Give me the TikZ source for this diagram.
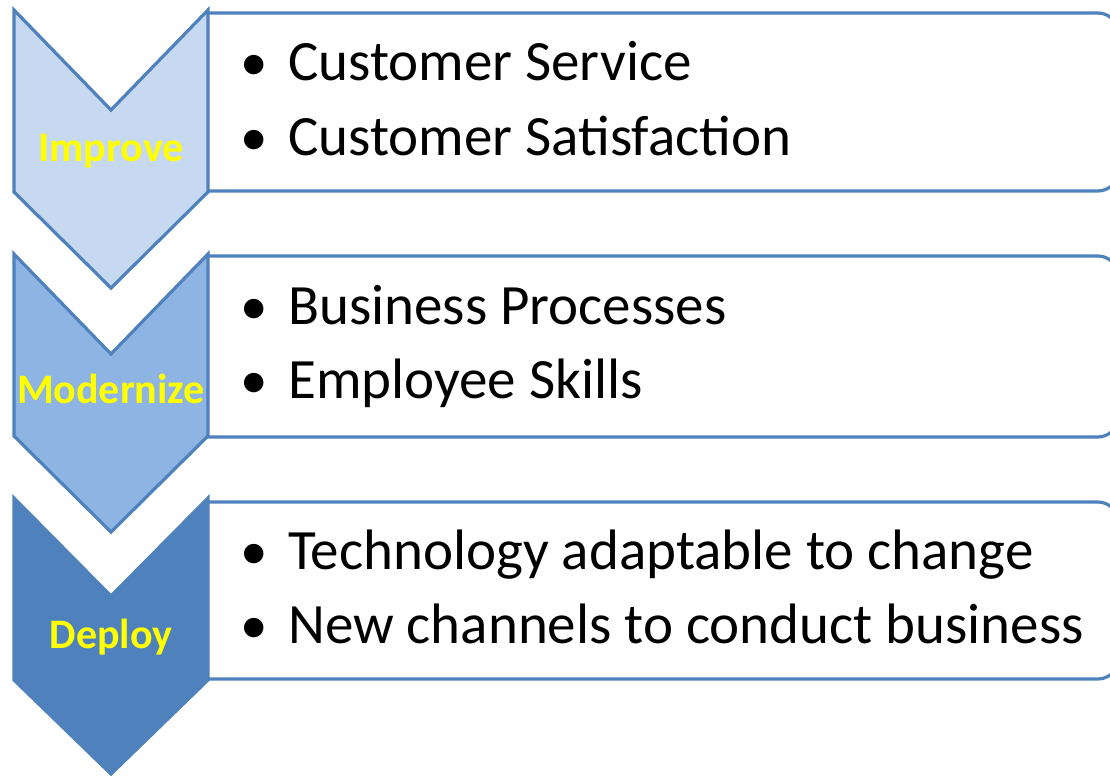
\documentclass[tikz,border=0pt]{standalone}
\usepackage{fontspec}
\setmainfont{Carlito}
\usetikzlibrary{positioning}

\definecolor{edgeblue}{RGB}{79,129,189}
\definecolor{paleblue}{RGB}{198,217,241}
\definecolor{midblue}{RGB}{142,180,227}
\definecolor{deepblue}{RGB}{79,129,189}
\definecolor{labelyellow}{RGB}{255,255,0}

\begin{document}
\begin{tikzpicture}[x=1pt, y=-1pt,
    chevron/.style={draw=edgeblue, line width=3.2pt, line join=miter},
    itembox/.style={draw=edgeblue, line width=3.2pt, rounded corners=20pt},
    steplabel/.style={anchor=base, inner sep=0pt, text=labelyellow, font=\fontsize{42}{46}\selectfont\bfseries},
    bullet/.style={anchor=base, inner sep=0pt, font=\fontsize{55}{60}\selectfont},
    item/.style={anchor=base west, inner sep=0pt, font=\fontsize{57}{62}\selectfont}]
            \useasboundingbox (0,0) rectangle (1110,776);
            \clip (0,0) rectangle (1110,776);

            % Boxes on the right (left side hidden behind the chevrons)
            \draw[itembox] (208,13) -- (1118,13) -- (1118,191) -- (208,191);
            \draw[itembox] (208,256) -- (1118,256) -- (1118,437) -- (208,437);
            \draw[itembox] (208,502) -- (1118,502) -- (1118,679) -- (208,679);

            % Chevrons down the left
            \draw[chevron, fill=paleblue] (14,10) -- (111,110) -- (208,10) -- (208,192) -- (111,288) -- (14,192) -- cycle;
            \draw[chevron, fill=midblue] (14,254) -- (111,354) -- (208,254) -- (208,436) -- (111,532) -- (14,436) -- cycle;
            \draw[chevron, fill=deepblue] (14,498) -- (111,596) -- (208,498) -- (208,680) -- (111,774) -- (14,680) -- cycle;

            % Step names
            \node[steplabel] (improve) at (111,161) {Improve};
            \node[steplabel] (modernize) at (111,403) {Modernize};
            \node[steplabel] (deploy) at (111,648) {Deploy};

            % Items of the first box
            \node[bullet] (b1) at (254,80) {•};
            \node[item] (service) at (288,80) {Customer Service};
            \node[bullet] (b2) at (254,155) {•};
            \node[item] (satisfaction) at (288,155) {Customer Satisfaction};

            % Items of the second box
            \node[bullet] (b3) at (254,324) {•};
            \node[item] (processes) at (288,324) {Business Processes};
            \node[bullet] (b4) at (254,398) {•};
            \node[item] (skills) at (288,398) {Employee Skills};

            % Items of the third box
            \node[bullet] (b5) at (254,569) {•};
            \node[item] (technology) at (288,569) {Technology adaptable to change};
            \node[bullet] (b6) at (254,643) {•};
            \node[item] (channels) at (288,643) {New channels to conduct business};
        \end{tikzpicture}
\end{document}
